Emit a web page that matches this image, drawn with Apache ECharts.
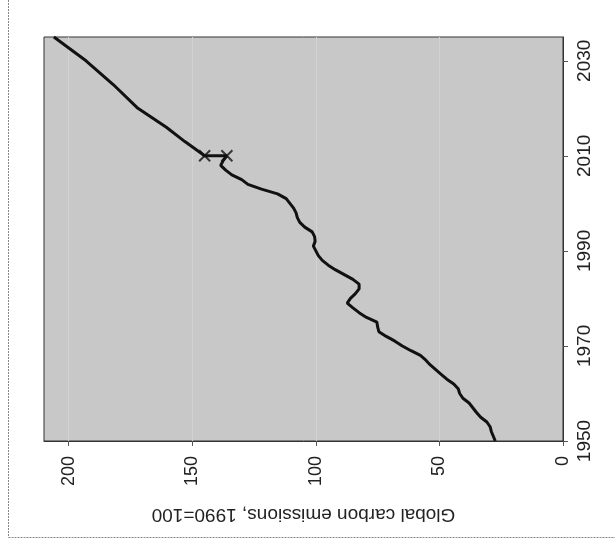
<!DOCTYPE html>
<html>
<head>
<meta charset="utf-8">
<script src="https://cdn.jsdelivr.net/npm/echarts@6/dist/echarts.min.js"></script>
<style>
html,body{margin:0;padding:0;background:#fff;}
#chart{width:615px;height:550px;}
</style>
</head>
<body>
<div id="chart"></div>
<script>
// Historical emissions (index, 1990=100)
var histYears = [1950,1951,1952,1953,1954,1955,1956,1957,1958,1959,1960,1961,1962,1963,1964,1965,1966,1967,1968,1969,
  1970,1971,1972,1973,1974,1975,1976,1977,1978,1979,1980,1981,1982,1983,1984,1985,1986,1987,1988,1989,
  1990,1991,1992,1993,1994,1995,1996,1997,1998,1999,2000,2001,2002,2003,2004,2005,2006,2007,2008,2009,2010];
var histValues = [27.4,28.2,29,29.5,30.8,33.3,35,36.5,38,40.5,41.8,42.4,44.2,47,49.3,51.5,53.7,55.5,57.7,61.5,
  65,68,71.5,74.5,75,75.3,79.5,82.5,85,87.3,86,84,82.5,82.5,85,88.5,92,95,97.4,99,
  100,101,100.3,100.5,101.5,104.5,106.5,107.5,108,109,110.5,112,115.5,122,127.5,130,134,136.5,138.5,137.5,136];
// Projection
var projYears = [2010,2013,2016,2020,2025,2030,2035];
var projValues = [145,153,160.5,172,182,193,206];
// Highlighted 2010 points
var markYears = [2010,2010];
var markValues = [145,136];

var yearTicks = [1950,1970,1990,2010,2030];
var valueTicks = [0,50,100,150,200];

var lineData = [];
for (var i = 0; i < histYears.length; i++) lineData.push([histValues[i], histYears[i]]);
for (var j = 0; j < projYears.length; j++) lineData.push([projValues[j], projYears[j]]);
var markData = [];
for (var k = 0; k < markYears.length; k++) markData.push([markValues[k], markYears[k]]);

var chart = echarts.init(document.getElementById('chart'), null, {renderer: 'canvas'});
var font = '"Liberation Sans", Arial, sans-serif';
chart.setOption({
  animation: false,
  backgroundColor: '#ffffff',
  grid: {left: 44, right: 52, top: 37, bottom: 109, show: true,
         backgroundColor: '#c8c8c8', borderColor: '#333', borderWidth: 1},
  graphic: [
    {type: 'line', shape: {x1: 8.5, y1: 0, x2: 8.5, y2: 537.5}, style: {stroke: '#888', lineWidth: 1, lineDash: [2, 1]}},
    {type: 'line', shape: {x1: 8.5, y1: 537.5, x2: 615, y2: 537.5}, style: {stroke: '#888', lineWidth: 1, lineDash: [2, 1]}}
  ],
  xAxis: {
    type: 'value', inverse: true, min: 0, max: 210, interval: 50,
    name: 'Global carbon emissions, 1990=100',
    nameLocation: 'middle', nameRotate: 180, nameGap: 64,
    nameTextStyle: {fontFamily: font, fontSize: 19, color: '#222'},
    axisLine: {show: true, lineStyle: {color: '#333'}},
    axisTick: {show: true, length: 5, lineStyle: {color: '#555'}, customValues: valueTicks},
    axisLabel: {rotate: 90, margin: 15, fontFamily: font, fontSize: 18, color: '#222',
                customValues: valueTicks},
    splitLine: {show: true, lineStyle: {color: '#d2d2d2', width: 1}}
  },
  yAxis: {
    type: 'value', position: 'right', min: 1950, max: 2035, interval: 20,
    axisLine: {show: true, lineStyle: {color: '#333'}},
    axisTick: {show: true, length: 5, lineStyle: {color: '#555'}, customValues: yearTicks},
    axisLabel: {rotate: 90, margin: 12, fontFamily: font, fontSize: 19, color: '#222',
                customValues: yearTicks, formatter: function (v) { return String(v); }},
    splitLine: {show: false}
  },
  series: [
    {type: 'line', data: lineData, showSymbol: false, symbol: 'none',
     lineStyle: {color: '#111', width: 3}, z: 3},
    {type: 'scatter', data: markData, symbol: 'path://M0,0L10,10M10,0L0,10', symbolSize: 11,
     itemStyle: {color: 'none', borderColor: '#111', borderWidth: 2}, z: 4}
  ]
});
</script>
</body>
</html>
